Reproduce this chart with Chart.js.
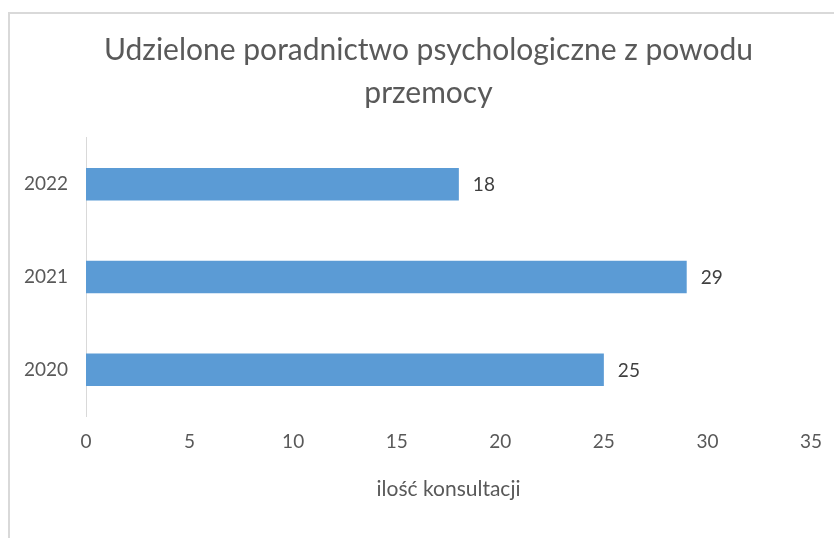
<!DOCTYPE html>
<html>
<head>
<meta charset="utf-8">
<script src="https://cdn.jsdelivr.net/npm/chart.js@4/dist/chart.umd.min.js"></script>
<style>
  html, body { margin: 0; padding: 0; background: #ffffff; overflow: hidden; }
  #wrap { position: relative; width: 834px; height: 538px; }
  #frame { position: absolute; left: 8px; top: 12px; right: 0; bottom: 0;
           border-top: 2px solid #d9d9d9; border-left: 2px solid #d9d9d9; pointer-events: none; }
  canvas { position: absolute; left: 0; top: 0; }
</style>
</head>
<body>
<div id="wrap">
  <canvas id="c" width="834" height="538"></canvas>
  <div id="frame"></div>
</div>
<script>
const titleLines = ['Udzielone poradnictwo psychologiczne z powodu', 'przemocy'];
const years = ['2020', '2021', '2022'];
const consultations = [25, 29, 18];
const xTitle = 'ilość konsultacji';
const xMin = 0, xMax = 35, xStep = 5;

const FONT = 'Lato, "Open Sans", sans-serif';
const TEXT = '#595959';

const titleShift = {
  id: 'titleShift',
  afterLayout(chart) {
    const tb = chart.titleBlock;
    if (tb) { tb.left = 23; tb.right = 834; }
  }
};

const valueLabels = {
  id: 'valueLabels',
  afterDatasetsDraw(chart) {
    const ctx = chart.ctx;
    const meta = chart.getDatasetMeta(0);
    ctx.save();
    ctx.font = '19px ' + FONT;
    ctx.fillStyle = '#404040';
    ctx.textAlign = 'left';
    ctx.textBaseline = 'middle';
    meta.data.forEach((bar, i) => {
      ctx.fillText(String(chart.data.datasets[0].data[i]), bar.x + 14, bar.y + 1);
    });
    ctx.restore();
  }
};

new Chart(document.getElementById('c'), {
  type: 'bar',
  data: {
    labels: years,
    datasets: [{
      data: consultations,
      backgroundColor: '#5B9BD5',
      borderWidth: 0,
      barPercentage: 0.35,
      categoryPercentage: 1
    }]
  },
  options: {
    indexAxis: 'y',
    responsive: false,
    animation: false,
    layout: { padding: { top: 0, left: 0, right: 23, bottom: 0 } },
    plugins: {
      legend: { display: false },
      tooltip: { enabled: false },
      title: {
        display: true,
        text: titleLines,
        color: TEXT,
        font: { family: FONT, size: 30, weight: 'normal', lineHeight: 1.433 },
        padding: { top: 29, bottom: 23 }
      }
    },
    scales: {
      x: {
        min: xMin, max: xMax,
        grid: { display: false, drawTicks: false },
        border: { display: false },
        ticks: { stepSize: xStep, color: TEXT, padding: 14, font: { family: FONT, size: 19 } },
        title: { display: true, text: xTitle, color: TEXT, font: { family: FONT, size: 21 }, padding: { top: 0, bottom: 36 } },
        afterFit(scale) { scale.height = 122; scale.paddingRight = 0; scale.paddingLeft = 0; }
      },
      y: {
        reverse: true,
        grid: { display: false, drawTicks: false },
        border: { display: true, color: '#d9d9d9', width: 1 },
        ticks: { color: TEXT, padding: 18, font: { family: FONT, size: 19 } },
        afterFit(scale) { scale.width = 86; }
      }
    }
  },
  plugins: [titleShift, valueLabels]
});
</script>
</body>
</html>
